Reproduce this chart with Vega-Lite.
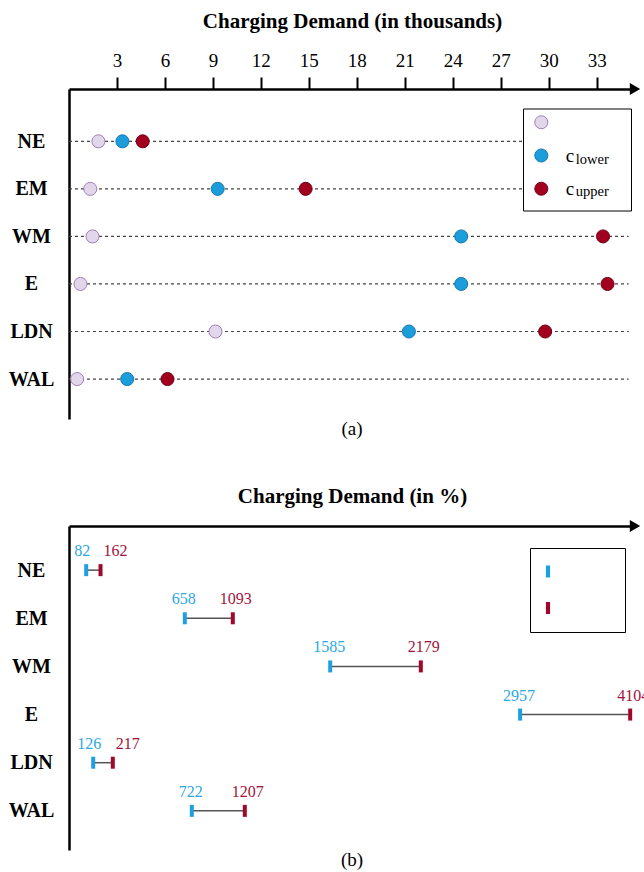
{
  "$schema": "https://vega.github.io/schema/vega-lite/v6.json",
  "padding": {"left": 8, "top": 10, "right": 0, "bottom": 0},
  "spacing": 46,
  "config": {
    "view": {"stroke": null},
    "font": "Liberation Serif",
    "axis": {"grid": false}
  },
  "datasets": {
    "demand": [
      {"region": "NE", "series": "base", "value": 1.84},
      {"region": "NE", "series": "clower", "value": 3.34},
      {"region": "NE", "series": "cupper", "value": 4.61},
      {"region": "EM", "series": "base", "value": 1.33},
      {"region": "EM", "series": "clower", "value": 9.3},
      {"region": "EM", "series": "cupper", "value": 14.8},
      {"region": "WM", "series": "base", "value": 1.47},
      {"region": "WM", "series": "clower", "value": 24.53},
      {"region": "WM", "series": "cupper", "value": 33.4},
      {"region": "E", "series": "base", "value": 0.72},
      {"region": "E", "series": "clower", "value": 24.53},
      {"region": "E", "series": "cupper", "value": 33.68},
      {"region": "LDN", "series": "base", "value": 9.16},
      {"region": "LDN", "series": "clower", "value": 21.26},
      {"region": "LDN", "series": "cupper", "value": 29.78},
      {"region": "WAL", "series": "base", "value": 0.51},
      {"region": "WAL", "series": "clower", "value": 3.64},
      {"region": "WAL", "series": "cupper", "value": 6.16}
    ],
    "pct": [
      {"region": "NE", "lower": 3.04, "upper": 5.57, "lower_n": 82, "upper_n": 162},
      {"region": "EM", "lower": 20.46, "upper": 28.94, "lower_n": 658, "upper_n": 1093},
      {"region": "WM", "lower": 46.15, "upper": 62.16, "lower_n": 1585, "upper_n": 2179},
      {"region": "E", "lower": 79.7, "upper": 99.15, "lower_n": 2957, "upper_n": 4104},
      {"region": "LDN", "lower": 4.28, "upper": 7.74, "lower_n": 126, "upper_n": 217},
      {"region": "WAL", "lower": 21.7, "upper": 31.06, "lower_n": 722, "upper_n": 1207}
    ]
  },
  "vconcat": [
    {
      "width": 566,
      "height": 330,
      "title": {"text": "(a)", "orient": "bottom", "frame": "group", "anchor": "middle", "offset": 1, "fontSize": 19, "fontWeight": "normal", "color": "black"},
      "data": {"name": "demand"},
      "encoding": {
        "y": {
          "field": "region", "type": "nominal",
          "sort": ["NE", "EM", "WM", "E", "LDN", "WAL"],
          "scale": {"type": "point", "padding": 0.97, "align": 0.567},
          "axis": {"title": null, "domain": true, "domainColor": "black", "domainWidth": 2.5, "ticks": false, "labelFontSize": 20, "labelFontWeight": "bold", "labelColor": "black", "labelAlign": "center", "labelPadding": 38}
        }
      },
      "layer": [
        {
          "transform": [{"aggregate": [{"op": "count", "as": "n"}], "groupby": ["region"]}],
          "mark": {"type": "rule", "strokeDash": [3, 3], "color": "#444444", "strokeWidth": 1.2},
          "encoding": {
            "x": {
              "datum": 0, "type": "quantitative",
              "scale": {"domain": [0, 35.4], "nice": false, "zero": false},
              "axis": {"orient": "top", "title": "Charging Demand (in thousands)", "titleFontSize": 21, "titleFontWeight": "bold", "titleColor": "black", "titlePadding": 20, "values": [3, 6, 9, 12, 15, 18, 21, 24, 27, 30, 33], "labelFontSize": 19, "labelColor": "black", "labelPadding": 7, "tickSize": 12, "tickWidth": 2, "tickColor": "black", "domainColor": "black", "domainWidth": 2.5, "labelFlush": false, "labelOverlap": false}
            },
            "x2": {"datum": 35.0}
          }
        },
        {
          "mark": {"type": "point", "filled": true, "size": 170, "strokeWidth": 1, "opacity": 1},
          "encoding": {
            "x": {
              "field": "value", "type": "quantitative",
              "scale": {"domain": [0, 35.4], "nice": false, "zero": false},
              "axis": {"orient": "top", "title": "Charging Demand (in thousands)", "titleFontSize": 21, "titleFontWeight": "bold", "titleColor": "black", "titlePadding": 20, "values": [3, 6, 9, 12, 15, 18, 21, 24, 27, 30, 33], "labelFontSize": 19, "labelColor": "black", "labelPadding": 7, "tickSize": 12, "tickWidth": 2, "tickColor": "black", "domainColor": "black", "domainWidth": 2.5, "labelFlush": false, "labelOverlap": false}
            },
            "fill": {
              "field": "series", "type": "nominal",
              "scale": {"domain": ["base", "clower", "cupper"], "range": ["#e2d6ea", "#1b9ddb", "#a3001f"]},
              "legend": {"title": null, "orient": "none", "legendX": 462.8, "legendY": 23.75, "padding": 0, "symbolSize": 170, "symbolStrokeWidth": 1, "labelFontSize": 19, "labelOffset": 14.9, "rowPadding": 13.25, "labelExpr": "datum.value == 'base' ? '' : 'c'", "encode": {"labels": {"update": {"fill": {"signal": "datum.value == 'clower' ? '#2aa6e0' : '#a8163a'"}}}}}
            },
            "stroke": {
              "field": "series", "type": "nominal",
              "scale": {"domain": ["base", "clower", "cupper"], "range": ["#9d80b8", "#1679b0", "#6f0016"]},
              "legend": {"title": null, "orient": "none", "legendX": 462.8, "legendY": 23.75, "padding": 0, "symbolSize": 170, "symbolStrokeWidth": 1, "labelFontSize": 19, "labelOffset": 14.9, "rowPadding": 13.25, "labelExpr": "datum.value == 'base' ? '' : 'c'", "encode": {"labels": {"update": {"fill": {"signal": "datum.value == 'clower' ? '#2aa6e0' : '#a8163a'"}}}}}
            },
            "shape": {
              "field": "series", "type": "nominal",
              "scale": {"range": ["circle", "circle", "circle"]},
              "legend": {"title": null, "orient": "none", "legendX": 454, "legendY": 19.5, "padding": 11, "strokeColor": "black", "fillColor": "white", "symbolOpacity": 0, "symbolSize": 16, "symbolStrokeWidth": 0, "labelFontSize": 14.5, "labelOffset": 27.2, "rowPadding": 17.75, "labelExpr": "datum.value == 'clower' ? 'lower\u00a0\u00a0\u00a0\u200b' : datum.value == 'cupper' ? 'upper\u00a0\u00a0\u00a0\u200b' : ''", "encode": {"labels": {"update": {"fill": {"signal": "datum.value == 'clower' ? '#2aa6e0' : '#a8163a'"}}}, "legend": {"update": {"strokeWidth": {"value": 1.5}}}}}
            }
          }
        },
        {
          "data": {"values": [{}]},
          "mark": {"type": "point", "shape": "triangle-right", "filled": true, "color": "black", "size": 144, "opacity": 1},
          "encoding": {
            "x": {
              "datum": 35.4, "type": "quantitative",
              "scale": {"domain": [0, 35.4], "nice": false, "zero": false},
              "axis": {"orient": "top", "title": "Charging Demand (in thousands)", "titleFontSize": 21, "titleFontWeight": "bold", "titleColor": "black", "titlePadding": 20, "values": [3, 6, 9, 12, 15, 18, 21, 24, 27, 30, 33], "labelFontSize": 19, "labelColor": "black", "labelPadding": 7, "tickSize": 12, "tickWidth": 2, "tickColor": "black", "domainColor": "black", "domainWidth": 2.5, "labelFlush": false, "labelOverlap": false}
            },
            "y": {"value": 0}
          }
        }
      ]
    },
    {
      "width": 566,
      "height": 324,
      "title": {"text": "(b)", "orient": "bottom", "frame": "group", "anchor": "middle", "offset": 1, "fontSize": 19, "fontWeight": "normal", "color": "black"},
      "data": {"name": "pct"},
      "encoding": {
        "y": {
          "field": "region", "type": "nominal",
          "sort": ["NE", "EM", "WM", "E", "LDN", "WAL"],
          "scale": {"type": "point", "padding": 0.865, "align": 0.53},
          "axis": {"title": null, "domain": true, "domainColor": "black", "domainWidth": 2.5, "ticks": false, "labelFontSize": 20, "labelFontWeight": "bold", "labelColor": "black", "labelAlign": "center", "labelPadding": 38}
        }
      },
      "layer": [
        {
          "mark": {"type": "rule", "color": "#555555", "strokeWidth": 1.5},
          "encoding": {
            "x": {
              "field": "lower", "type": "quantitative",
              "scale": {"domain": [0, 100], "nice": false, "zero": false},
              "axis": {"orient": "top", "title": "Charging Demand (in %)", "titleFontSize": 21, "titleFontWeight": "bold", "titleColor": "black", "titlePadding": 19.5, "labels": false, "ticks": false, "domainColor": "black", "domainWidth": 2.5}
            },
            "x2": {"field": "upper"}
          }
        },
        {
          "transform": [{"fold": ["lower", "upper"], "as": ["bound", "pct"]}],
          "mark": {"type": "tick", "thickness": 4, "size": 12, "orient": "vertical", "opacity": 1},
          "encoding": {
            "x": {
              "field": "pct", "type": "quantitative",
              "scale": {"domain": [0, 100], "nice": false, "zero": false},
              "axis": {"orient": "top", "title": "Charging Demand (in %)", "titleFontSize": 21, "titleFontWeight": "bold", "titleColor": "black", "titlePadding": 19.5, "labels": false, "ticks": false, "domainColor": "black", "domainWidth": 2.5}
            },
            "color": {
              "field": "bound", "type": "nominal",
              "scale": {"domain": ["lower", "upper"], "range": ["#1f9fe0", "#a0082a"]},
              "legend": {"title": null, "orient": "none", "legendX": 461, "legendY": 459, "padding": 14, "strokeColor": "black", "fillColor": "white", "symbolType": "M-0.35,-1H0.35V1H-0.35Z", "symbolSize": 144, "symbolStrokeWidth": 0, "symbolOffset": -5.5, "labelFontSize": 19, "labelOffset": 0.5, "rowPadding": 16.5, "labelExpr": "'\u200b\u00a0\u00a0\u00a0\u00a0\u00a0\u00a0\u00a0\u00a0\u00a0\u00a0\u00a0\u200b'", "encode": {"legend": {"update": {"strokeWidth": {"value": 1.5}}}}}
            }
          }
        },
        {
          "transform": [{"filter": "datum.upper - datum.lower >= 5"}],
          "mark": {"type": "text", "dy": -19, "dx": -1, "fontSize": 16, "color": "#2aa8e4"},
          "encoding": {
            "x": {
              "field": "lower", "type": "quantitative",
              "scale": {"domain": [0, 100], "nice": false, "zero": false},
              "axis": {"orient": "top", "title": "Charging Demand (in %)", "titleFontSize": 21, "titleFontWeight": "bold", "titleColor": "black", "titlePadding": 19.5, "labels": false, "ticks": false, "domainColor": "black", "domainWidth": 2.5}
            },
            "text": {"field": "lower_n", "type": "quantitative"}
          }
        },
        {
          "transform": [{"filter": "datum.upper - datum.lower < 5"}],
          "mark": {"type": "text", "dy": -19, "dx": -4, "fontSize": 16, "color": "#2aa8e4"},
          "encoding": {
            "x": {
              "field": "lower", "type": "quantitative",
              "scale": {"domain": [0, 100], "nice": false, "zero": false},
              "axis": {"orient": "top", "title": "Charging Demand (in %)", "titleFontSize": 21, "titleFontWeight": "bold", "titleColor": "black", "titlePadding": 19.5, "labels": false, "ticks": false, "domainColor": "black", "domainWidth": 2.5}
            },
            "text": {"field": "lower_n", "type": "quantitative"}
          }
        },
        {
          "transform": [{"filter": "datum.upper - datum.lower >= 5"}],
          "mark": {"type": "text", "dy": -19, "dx": 3, "fontSize": 16, "color": "#a3123a"},
          "encoding": {
            "x": {
              "field": "upper", "type": "quantitative",
              "scale": {"domain": [0, 100], "nice": false, "zero": false},
              "axis": {"orient": "top", "title": "Charging Demand (in %)", "titleFontSize": 21, "titleFontWeight": "bold", "titleColor": "black", "titlePadding": 19.5, "labels": false, "ticks": false, "domainColor": "black", "domainWidth": 2.5}
            },
            "text": {"field": "upper_n", "type": "quantitative"}
          }
        },
        {
          "transform": [{"filter": "datum.upper - datum.lower < 5"}],
          "mark": {"type": "text", "dy": -19, "dx": 15, "fontSize": 16, "color": "#a3123a"},
          "encoding": {
            "x": {
              "field": "upper", "type": "quantitative",
              "scale": {"domain": [0, 100], "nice": false, "zero": false},
              "axis": {"orient": "top", "title": "Charging Demand (in %)", "titleFontSize": 21, "titleFontWeight": "bold", "titleColor": "black", "titlePadding": 19.5, "labels": false, "ticks": false, "domainColor": "black", "domainWidth": 2.5}
            },
            "text": {"field": "upper_n", "type": "quantitative"}
          }
        },
        {
          "data": {"values": [{}]},
          "mark": {"type": "point", "shape": "triangle-right", "filled": true, "color": "black", "size": 144, "opacity": 1},
          "encoding": {
            "x": {
              "datum": 100, "type": "quantitative",
              "scale": {"domain": [0, 100], "nice": false, "zero": false},
              "axis": {"orient": "top", "title": "Charging Demand (in %)", "titleFontSize": 21, "titleFontWeight": "bold", "titleColor": "black", "titlePadding": 19.5, "labels": false, "ticks": false, "domainColor": "black", "domainWidth": 2.5}
            },
            "y": {"value": 0}
          }
        }
      ]
    }
  ]
}
